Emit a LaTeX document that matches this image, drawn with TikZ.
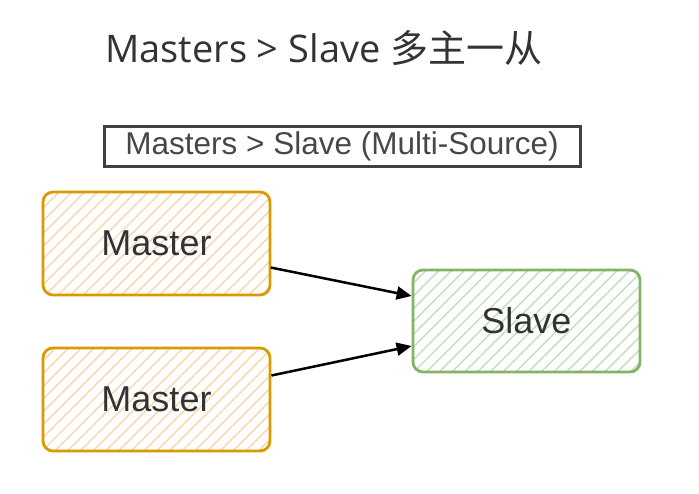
\documentclass[tikz,border=0pt]{standalone}
\usepackage{fontspec}
\setmainfont{Open Sans}
\newfontfamily\arialf{Liberation Sans}
\newfontfamily\cjkf{Noto Sans CJK SC}
\usetikzlibrary{patterns.meta,arrows.meta}
\definecolor{ordraw}{HTML}{D79B00}
\definecolor{orfill}{HTML}{FFD4AA}
\definecolor{grdraw}{HTML}{82B366}
\definecolor{grfill}{HTML}{C0DFBA}
\definecolor{txt}{HTML}{333333}
\tikzset{
  masterbox/.style={draw=ordraw, line width=2.8pt, rounded corners=10pt,
    pattern={Lines[angle=45,distance=9pt,line width=1.4pt]}, pattern color=orfill,
    minimum width=227pt, minimum height=103pt, text=txt, font=\arialf\fontsize{36}{40}\selectfont},
  slavebox/.style={draw=grdraw, line width=2.8pt, rounded corners=10pt,
    pattern={Lines[angle=45,distance=9pt,line width=1.4pt]}, pattern color=grfill,
    minimum width=227pt, minimum height=102pt, text=txt, font=\arialf\fontsize{36}{40}\selectfont},
  conn/.style={line width=2.5pt, -{Triangle[length=15pt,width=13pt]}}
}
\begin{document}
\begin{tikzpicture}[x=1pt,y=-1pt]
\useasboundingbox (0,0) rectangle (699,493);
\node[anchor=base west, inner sep=0pt, text=txt, font=\fontsize{38}{44}\selectfont] (title) at (105,62) {Masters > Slave {\cjkf 多主一从}};
\node[draw=black!75, line width=3pt, minimum width=476pt, minimum height=40pt, inner sep=0pt,
  text=txt!90, font=\arialf\fontsize{31.5}{34}\selectfont] (sub) at (342,146) {Masters > Slave (Multi-Source)};
\node[masterbox] (m1) at (156.5,243.5) {Master};
\node[masterbox] (m2) at (156.5,399.5) {Master};
\node[slavebox] (s) at (526.5,321) {Slave};
\draw[conn] ([yshift=-24pt]m1.east) -- ([yshift=25pt]s.west);
\draw[conn] ([yshift=24pt]m2.east) -- ([yshift=-25pt]s.west);
\end{tikzpicture}
\end{document}
